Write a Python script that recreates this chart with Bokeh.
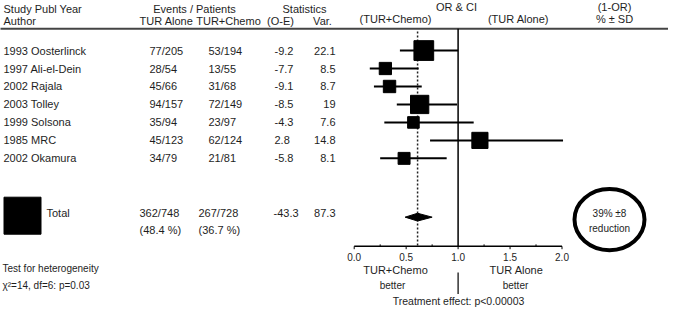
import math
from bokeh.plotting import figure
from bokeh.models import Range1d
from bokeh.core.properties import value
from bokeh.embed import file_html
from bokeh.resources import INLINE

# ---------------- data ----------------
studies = ["1993 Oosterlinck", "1997 Ali-el-Dein", "2002 Rajala", "2003 Tolley",
           "1999 Solsona", "1985 MRC", "2002 Okamura"]
tur_alone = ["77/205", "28/54", "45/66", "94/157", "35/94", "45/123", "34/79"]
tur_chemo = ["53/194", "13/55", "31/68", "72/149", "23/97", "62/124", "21/81"]
o_minus_e = ["-9.2", "-7.7", "-9.1", "-8.5", "-4.3", "2.8", "-5.8"]
variance = ["22.1", "8.5", "8.7", "19", "7.6", "14.8", "8.1"]
odds_ratio = [0.67, 0.30, 0.34, 0.63, 0.57, 1.21, 0.48]
ci_low = [0.44, 0.15, 0.19, 0.41, 0.29, 0.73, 0.25]
ci_high = [1.00, 0.62, 0.65, 0.99, 1.15, 2.01, 0.89]

total_events = ["362/748", "267/728"]
total_pct = ["(48.4 %)", "(36.7 %)"]
total_oe = "-43.3"
total_var = "87.3"
total_or = 0.61
total_low = 0.49
total_high = 0.75
null_or = 1.0
reduction = ["39% \u00b18", "reduction"]

tick_values = [0.0, 0.5, 1.0, 1.5, 2.0]
tick_labels = ["0.0", "0.5", "1.0", "1.5", "2.0"]

# ---------------- layout ----------------
FONT = "Liberation Sans"
TXT = "#1e1e1e"
X_START, X_END = 4, 672          # reference-pixel coordinate frame
Y_TOP, Y_BOT = 6, 322
OR0_PX, PX_PER_OR = 357.7, 103.9  # where OR=0 sits, pixels per OR unit

p = figure(width=668, height=307, output_backend="svg", toolbar_location=None,
           x_range=Range1d(X_START, X_END), y_range=Range1d(Y_BOT, Y_TOP),
           x_axis_type=None, y_axis_type=None, min_border=0)
p.outline_line_color = None
p.grid.visible = False
p.extra_x_ranges = {"or": Range1d((X_START - OR0_PX) / PX_PER_OR,
                                  (X_END - OR0_PX) / PX_PER_OR)}


def txt(xs, ys, texts, align="left", size="11px", color=TXT):
    p.text(x=xs, y=ys, text=texts, text_align=align, text_baseline="middle",
           text_font=value(FONT), text_font_size=size, text_color=color)


row_y = [57.5 + 18.5 * i for i in range(len(studies))]
total_y = 225
axis_y = 259

# header
txt([7], [15], ["Study Publ Year"])
txt([7], [27], ["Author"])
txt([198], [15], ["Events / Patients"], "center")
txt([170], [27], ["TUR Alone"], "center")
txt([232], [27], ["TUR+Chemo"], "center")
txt([308], [15], ["Statistics"], "center")
txt([284], [27], ["(O-E)"], "center")
txt([326], [27], ["Var."], "center")
txt([460], [13], ["OR & CI"], "center")
txt([399], [25], ["(TUR+Chemo)"], "center")
txt([522], [25], ["(TUR Alone)"], "center")
txt([618], [13], ["(1-OR)"], "center")
txt([618], [25], ["% \u00b1 SD"], "center")
p.segment(x0=[0], y0=[35], x1=[684], y1=[35], line_color="#444444", line_width=2)

# study rows
txt([7] * len(studies), row_y, studies)
txt([153] * len(studies), row_y, tur_alone)
txt([212] * len(studies), row_y, tur_chemo)
txt([278] * len(studies), row_y, o_minus_e)
txt([339] * len(studies), row_y, variance, "right")

# total rows
p.scatter(x=[26], y=[227.5], size=37, marker="square", color="black")
txt([50], [total_y], ["Total"])
txt([143, 202], [total_y, total_y], total_events)
txt([143, 202], [total_y + 17, total_y + 17], total_pct)
txt([277], [total_y], [total_oe])
txt([339], [total_y], [total_var], "right")

# forest plot
p.segment(x0=[null_or], y0=[35], x1=[null_or], y1=[axis_y], x_range_name="or",
          line_color="black", line_width=1.5)
p.segment(x0=[total_or], y0=[38], x1=[total_or], y1=[axis_y], x_range_name="or",
          line_color="#222222", line_width=1.5, line_dash="2 2")
p.segment(x0=ci_low, y0=row_y, x1=ci_high, y1=row_y, x_range_name="or",
          line_color="black", line_width=2)
sizes = [4.2 * math.sqrt(float(v)) for v in variance]
p.scatter(x=odds_ratio, y=row_y, size=sizes, marker="square", color="black",
          x_range_name="or")
dy = 229
p.patch(x=[total_low, total_or, total_high, total_or], y=[dy, dy - 4, dy, dy + 4],
        x_range_name="or", color="black")

# axis
p.segment(x0=[tick_values[0]], y0=[axis_y], x1=[tick_values[-1]], y1=[axis_y],
          x_range_name="or", line_color="black", line_width=1.5)
p.segment(x0=tick_values, y0=[axis_y] * 5, x1=tick_values, y1=[axis_y + 3] * 5,
          x_range_name="or", line_color="black", line_width=1)
minor = [t + 0.25 for t in tick_values[:-1]]
p.segment(x0=minor, y0=[axis_y] * 4, x1=minor, y1=[axis_y - 2] * 4,
          x_range_name="or", line_color="black", line_width=1)
p.text(x=tick_values, y=[270] * 5, text=tick_labels, x_range_name="or",
       text_align="center", text_baseline="middle", text_font=value(FONT),
       text_font_size="10px", text_color=TXT)

# below axis
txt([399], [283], ["TUR+Chemo"], "center")
txt([396], [299], ["better"], "center", "10px")
txt([520], [283], ["TUR Alone"], "center")
txt([519], [299], ["better"], "center", "10px")
p.segment(x0=[null_or], y0=[286], x1=[null_or], y1=[308], x_range_name="or",
          line_color="black", line_width=1.2)
txt([462], [315], ["Treatment effect: p<0.00003"], "center", "10.5px")

# heterogeneity
txt([6], [282], ["Test for heterogeneity"], "left", "10px")
txt([6], [299], ["\u03c7\u00b2=14, df=6: p=0.03"], "left", "10px")

# circled reduction
p.ellipse(x=[613], y=[231.5], width=[70], height=[63], fill_color=None,
          line_color="black", line_width=4)
txt([613, 613], [225, 241], reduction, "center", "10px")

open("out.html", "w").write(file_html(p, INLINE))
